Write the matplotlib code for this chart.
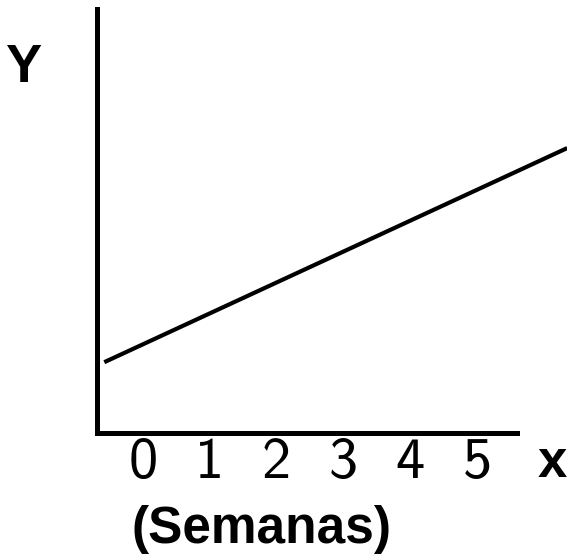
import matplotlib
matplotlib.use("Agg")
import matplotlib.pyplot as plt
import matplotlib.transforms as mtransforms

# data
weeks = [0, 1, 2, 3, 4, 5]
tick_labels = ["0", "1", "2", "3", "4", "5"]
line_x = [-0.58, 6.35]
line_y = [1.67, 6.72]

W, H = 567, 555
fig = plt.figure(figsize=(W / 100, H / 100), dpi=100)
plt.rcParams['font.family'] = ['Liberation Sans', 'DejaVu Sans']

ax_left, ax_right, ax_bottom, ax_top = 97, 567, 433, 9
ax = fig.add_axes([ax_left / W, 1 - ax_bottom / H, (ax_right - ax_left) / W, (ax_bottom - ax_top) / H])
ax.set_xlim(-0.689, 6.347)
ax.set_ylim(0, 10)
ax.plot(line_x, line_y, color="black", lw=3.0, solid_capstyle="butt", clip_on=False)

for s in ["top", "right"]:
    ax.spines[s].set_visible(False)
ax.spines["left"].set_linewidth(3.6)
ax.spines["bottom"].set_linewidth(3.6)
ax.spines["bottom"].set_bounds(-0.689, 5.6)
ax.set_yticks([])
ax.set_xticks(weeks)
ax.set_xticklabels(tick_labels, fontsize=42, family="cmss10")
ax.tick_params(axis="x", length=0, pad=3)
ax.set_facecolor("none")

trans = mtransforms.blended_transform_factory(ax.transData, fig.transFigure)
ax.text(6.12, 1 - 463 / H, "x", transform=trans, fontsize=38, fontweight="bold",
        ha="center", va="center")
fig.text(262 / W, 1 - 529 / H, "(Semanas)", fontsize=37, fontweight="bold", ha="center", va="center")
fig.text(23 / W, 1 - 68 / H, "Y", fontsize=39, fontweight="bold", ha="center", va="center")

fig.savefig("out.png", dpi=100)
